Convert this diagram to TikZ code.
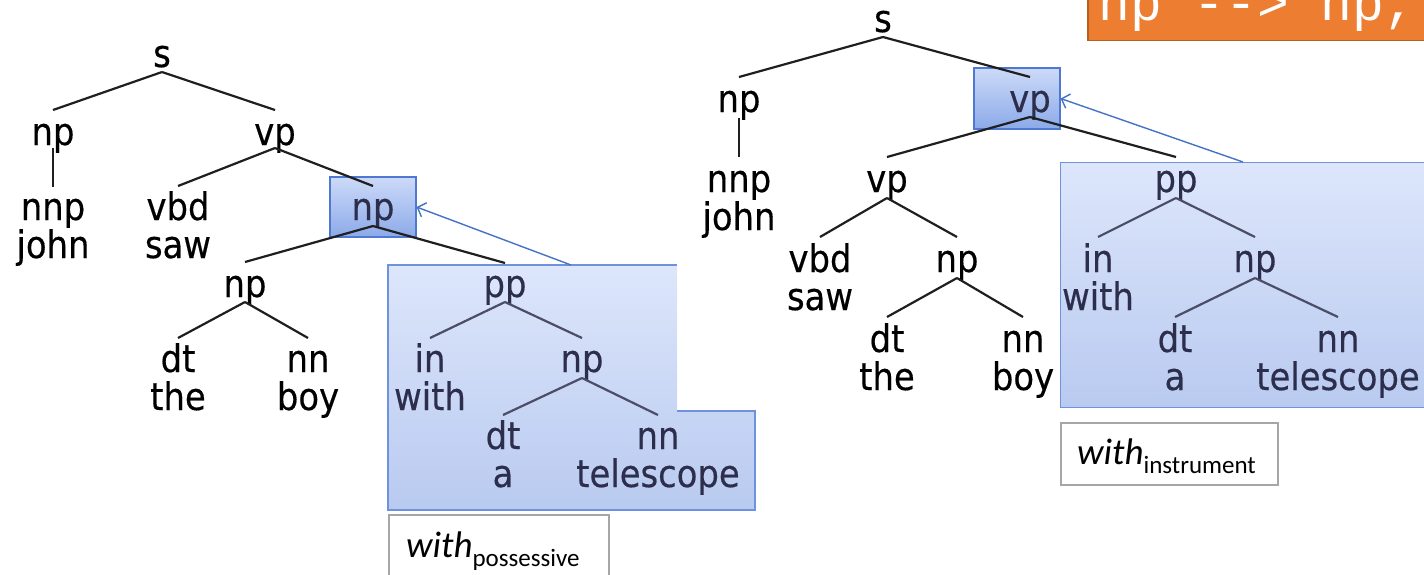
\documentclass[tikz,border=0pt]{standalone}
\usepackage{fontspec}
\setmainfont{DejaVu Sans}[FakeStretch=0.89,FakeBold=0.4]
\newfontfamily\lblfont{Carlito}
\newfontfamily\codefont{Liberation Mono}
\usetikzlibrary{arrows.meta}
\definecolor{bigtop}{HTML}{DDE6FB}
\definecolor{bigbot}{HTML}{B9CAF0}
\definecolor{bigborder}{HTML}{6F92DE}
\definecolor{smalltop}{HTML}{CCDAF8}
\definecolor{smallbot}{HTML}{8CAAE9}
\definecolor{smallborder}{HTML}{4F78D2}
\definecolor{arrowblue}{HTML}{4472C4}
\definecolor{intext}{HTML}{2C2E4C}
\definecolor{orangefill}{HTML}{ED7D31}
\definecolor{orangeborder}{HTML}{B5601F}
\definecolor{lblborder}{HTML}{A6A6A6}
\begin{document}
\begin{tikzpicture}[x=1pt,y=-1pt,
  lab/.style={inner sep=0pt, anchor=base, font=\fontsize{38}{38}\selectfont, text=black},
  inlab/.style={lab, text=intext},
  edge/.style={line width=2.2pt, draw=black!88},
  inedge/.style={line width=2.2pt, draw=intext!85},
  smallbox/.style={draw=smallborder, line width=1.2pt, top color=smalltop, bottom color=smallbot, inner sep=0pt},
  bigbox/.style={draw=bigborder, line width=1.2pt, top color=bigtop, bottom color=bigbot, inner sep=0pt},
  lblbox/.style={draw=lblborder, line width=1.5pt, fill=white, inner sep=0pt},
  lbltext/.style={inner sep=0pt, anchor=base west, font=\lblfont\fontsize{37}{42}\selectfont},
  arr/.style={draw=arrowblue, line width=1.4pt, -{Straight Barb[length=7pt,width=15pt,line width=1.4pt]}}
]
\useasboundingbox (0,0) rectangle (1424,574);
\clip (0,0) rectangle (1424,574);

% ---------- boxes (left) ----------
\shade[top color=bigtop, bottom color=bigbot] (388,265) -- (677,265) -- (677,411) -- (755,411) -- (755,510) -- (388,510) -- cycle;
\draw[draw=bigborder, line width=1.2pt] (677,265) -- (388,265) -- (388,510) -- (755,510) -- (755,411) -- (677,411);
\node[smallbox, minimum width=86pt, minimum height=60pt] (Lbox) at (373,207) {};
\coordinate (Lbigtop) at (571,265);
\node[lblbox, minimum width=220pt, minimum height=80pt, anchor=north west] (Llbl) at (388,514) {};

% ---------- boxes (right) ----------
\node[bigbox, minimum width=380pt, minimum height=245pt, anchor=north west] (Rbig) at (1060,162) {};
\node[smallbox, minimum width=86pt, minimum height=61pt] (Rbox) at (1017,98.5) {};
\coordinate (Rbigtop) at (1243,162);
\node[lblbox, minimum width=217pt, minimum height=62pt, anchor=north west] (Rlbl) at (1060,422) {};

% ---------- orange code box ----------
\node[draw=orangeborder, line width=1.5pt, fill=orangefill, minimum width=360pt, minimum height=60pt, anchor=south west, inner sep=0pt] (code) at (1087,41) {};
\node[inner sep=0pt, anchor=base west, text=white, font=\codefont\fontsize{53}{60}\selectfont] (codetxt) at (1098,20) {np --> np,};

% ---------- arrows ----------
\draw[arr] (Lbigtop) -- (Lbox.east);
\draw[arr] (Rbigtop) -- (Rbox.east);

% ---------- left tree ----------
\node[lab] (Ls) at (162,67) {s};
\node[lab] (Lnp) at (53,145) {np};
\node[lab] (Lvp) at (275,145) {vp};
\node[lab] (Lnnp) at (53,220) {nnp};
\node[lab] (Ljohn) at (53,258) {john};
\node[lab] (Lvbd) at (178,220) {vbd};
\node[lab] (Lsaw) at (178,258) {saw};
\node[inlab] (Lnpb) at (373,220) {np};
\node[lab] (Lnpc) at (245,297) {np};
\node[lab] (Ldt) at (178,372) {dt};
\node[lab] (Lthe) at (178,410) {the};
\node[lab] (Lnn) at (308,372) {nn};
\node[lab] (Lboy) at (308,410) {boy};
\node[inlab] (Lpp) at (505,297) {pp};
\node[inlab] (Lin) at (430,372) {in};
\node[inlab] (Lwith) at (430,410) {with};
\node[inlab] (Lnpd) at (582,372) {np};
\node[inlab] (Ldtb) at (503,449) {dt};
\node[inlab] (La) at (503,487) {a};
\node[inlab] (Lnnb) at (658,449) {nn};
\node[inlab] (Ltel) at (658,487) {telescope};

\draw[edge] ([yshift=-5pt]Ls.base) -- ([yshift=35pt]Lnp.base);
\draw[edge] ([yshift=-5pt]Ls.base) -- ([yshift=35pt]Lvp.base);
\draw[edge] ([yshift=-3pt]Lnp.base) -- ([yshift=33pt]Lnnp.base);
\draw[edge] ([yshift=-3pt]Lvp.base) -- ([yshift=34pt]Lvbd.base);
\draw[edge] ([yshift=-3pt]Lvp.base) -- ([yshift=34pt]Lnpb.base);
\draw[edge] ([yshift=-6pt]Lnpb.base) -- ([yshift=35pt]Lnpc.base);
\draw[edge] ([yshift=-6pt]Lnpb.base) -- ([yshift=34pt]Lpp.base);
\draw[edge] ([yshift=-5pt]Lnpc.base) -- ([yshift=34pt]Ldt.base);
\draw[edge] ([yshift=-5pt]Lnpc.base) -- ([yshift=34pt]Lnn.base);
\draw[inedge] ([yshift=-5pt]Lpp.base) -- ([yshift=34pt]Lin.base);
\draw[inedge] ([yshift=-5pt]Lpp.base) -- ([yshift=34pt]Lnpd.base);
\draw[inedge] ([yshift=-6pt]Lnpd.base) -- ([yshift=34pt]Ldtb.base);
\draw[inedge] ([yshift=-6pt]Lnpd.base) -- ([yshift=34pt]Lnnb.base);

% ---------- right tree ----------
\node[lab] (Rs) at (883,32) {s};
\node[lab] (Rnp) at (739,112) {np};
\node[lab] (Rnnp) at (739,192) {nnp};
\node[lab] (Rjohn) at (739,230) {john};
\node[inlab] (Rvp) at (1030,112) {vp};
\node[lab] (Rvpb) at (887,192) {vp};
\node[lab] (Rvbd) at (820,272) {vbd};
\node[lab] (Rsaw) at (820,310) {saw};
\node[lab] (Rnpb) at (957,272) {np};
\node[lab] (Rdt) at (887,352) {dt};
\node[lab] (Rthe) at (887,390) {the};
\node[lab] (Rnn) at (1023,352) {nn};
\node[lab] (Rboy) at (1023,390) {boy};
\node[inlab] (Rpp) at (1176,192) {pp};
\node[inlab] (Rin) at (1098,272) {in};
\node[inlab] (Rwith) at (1098,310) {with};
\node[inlab] (Rnpc) at (1255,272) {np};
\node[inlab] (Rdtb) at (1175,352) {dt};
\node[inlab] (Ra) at (1175,390) {a};
\node[inlab] (Rnnb) at (1338,352) {nn};
\node[inlab] (Rtel) at (1338,390) {telescope};

\draw[edge] ([yshift=-5pt]Rs.base) -- ([yshift=35pt]Rnp.base);
\draw[edge] ([yshift=-5pt]Rs.base) -- ([yshift=35pt]Rvp.base);
\draw[edge] ([yshift=-6pt]Rnp.base) -- ([yshift=35pt]Rnnp.base);
\draw[edge] ([yshift=-5pt]Rvp.base) -- ([yshift=35pt]Rvpb.base);
\draw[edge] ([yshift=-5pt]Rvp.base) -- ([yshift=35pt]Rpp.base);
\draw[edge] ([yshift=-6pt]Rvpb.base) -- ([yshift=35pt]Rvbd.base);
\draw[edge] ([yshift=-6pt]Rvpb.base) -- ([yshift=35pt]Rnpb.base);
\draw[edge] ([yshift=-6pt]Rnpb.base) -- ([yshift=35pt]Rdt.base);
\draw[edge] ([yshift=-6pt]Rnpb.base) -- ([yshift=35pt]Rnn.base);
\draw[inedge] ([yshift=-6pt]Rpp.base) -- ([yshift=35pt]Rin.base);
\draw[inedge] ([yshift=-6pt]Rpp.base) -- ([yshift=35pt]Rnpc.base);
\draw[inedge] ([yshift=-6pt]Rnpc.base) -- ([yshift=35pt]Rdtb.base);
\draw[inedge] ([yshift=-6pt]Rnpc.base) -- ([yshift=35pt]Rnnb.base);

% ---------- sense labels ----------
\node[lbltext] (Llbltxt) at (406,557) {\itshape with\upshape\raisebox{-9pt}{\fontsize{25}{30}\selectfont possessive}};
\node[lbltext] (Rlbltxt) at (1077,464) {\itshape with\upshape\raisebox{-9pt}{\fontsize{25}{30}\selectfont instrument}};
\end{tikzpicture}
\end{document}
